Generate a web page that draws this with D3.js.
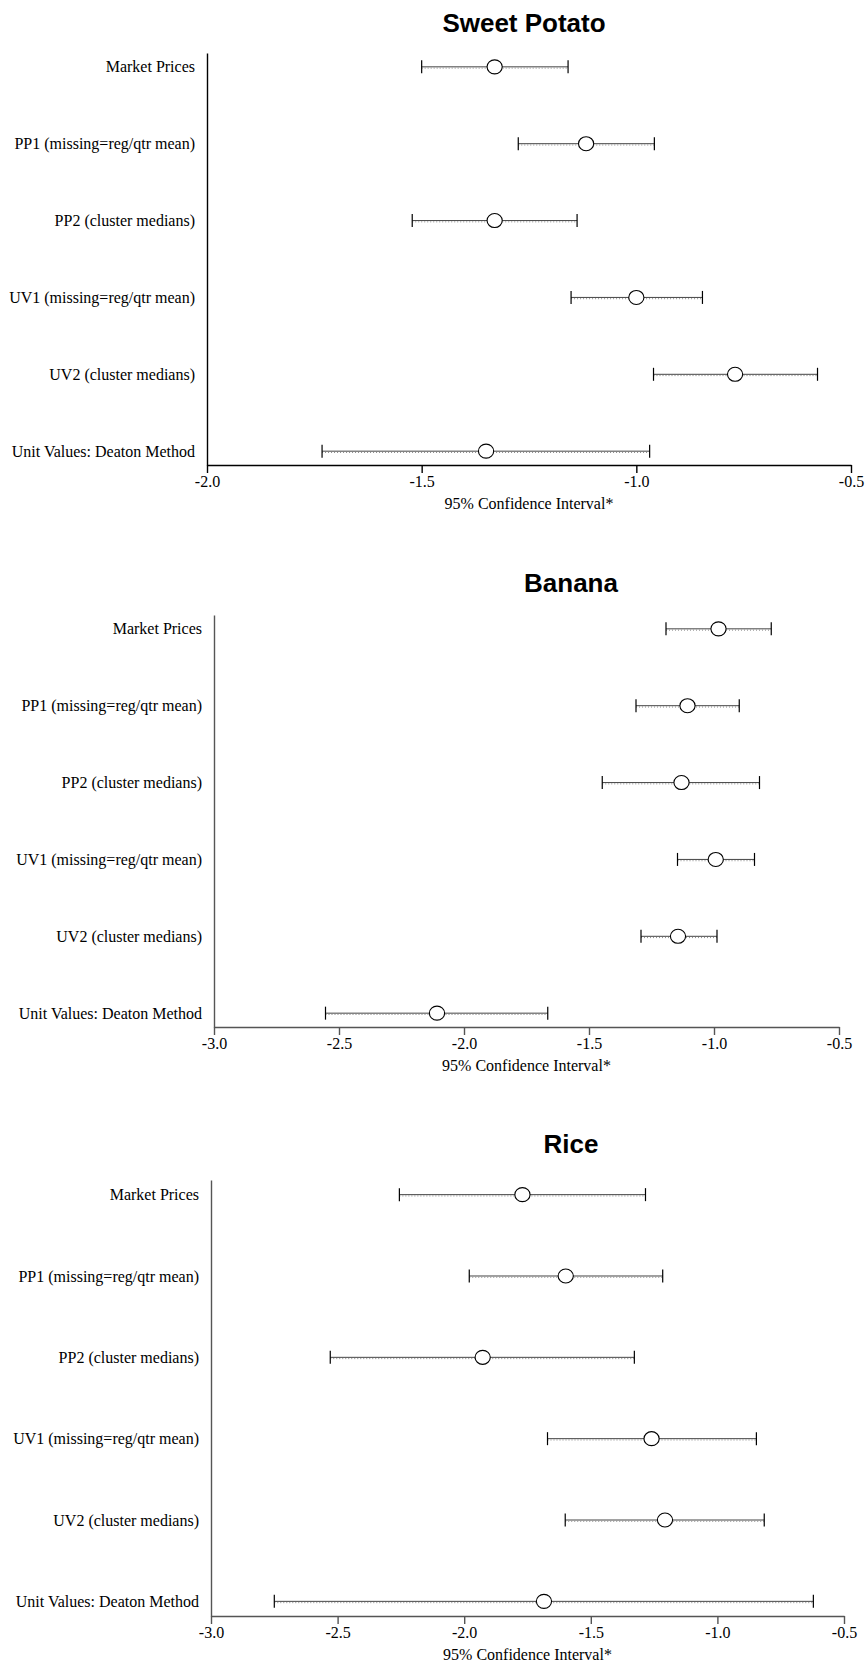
<!DOCTYPE html>
<html>
<head>
<meta charset="utf-8">
<script src="https://cdn.jsdelivr.net/npm/d3@7"></script>
<style>
  html, body { margin: 0; padding: 0; background: #fff; }
  svg { display: block; }
</style>
</head>
<body>
<script>
// Price-elasticity estimates with 95% confidence intervals, one panel per crop.
const categories = [
  "Market Prices",
  "PP1 (missing=reg/qtr mean)",
  "PP2 (cluster medians)",
  "UV1 (missing=reg/qtr mean)",
  "UV2 (cluster medians)",
  "Unit Values: Deaton Method"
];

const sweetPotatoEst = [-1.330, -1.117, -1.330, -1.000, -0.770, -1.350];
const sweetPotatoLo  = [-1.500, -1.275, -1.522, -1.152, -0.960, -1.732];
const sweetPotatoHi  = [-1.159, -0.958, -1.138, -0.846, -0.578, -0.969];
const sweetPotatoTicks = [-2.0, -1.5, -1.0, -0.5];

const bananaEst = [-0.982, -1.106, -1.130, -0.993, -1.144, -2.108];
const bananaLo  = [-1.192, -1.312, -1.447, -1.146, -1.292, -2.554];
const bananaHi  = [-0.771, -0.899, -0.818, -0.838, -0.988, -1.665];
const bananaTicks = [-3.0, -2.5, -2.0, -1.5, -1.0, -0.5];

const riceEst = [-1.770, -1.599, -1.927, -1.260, -1.207, -1.685];
const riceLo  = [-2.256, -1.980, -2.529, -1.671, -1.601, -2.750];
const riceHi  = [-1.284, -1.216, -1.328, -0.846, -0.815, -0.621];
const riceTicks = [-3.0, -2.5, -2.0, -1.5, -1.0, -0.5];

const axisTitle = "95% Confidence Interval*";

// Panel geometry (pixels on the page).
const panels = [
  { title: "Sweet Potato", est: sweetPotatoEst, lo: sweetPotatoLo, hi: sweetPotatoHi,
    ticks: sweetPotatoTicks, left: 207, right: 851, top: 53, bottom: 465,
    titleX: 524, titleY: 32, axisColor: "#000" },
  { title: "Banana", est: bananaEst, lo: bananaLo, hi: bananaHi,
    ticks: bananaTicks, left: 214, right: 839, top: 615, bottom: 1027,
    titleX: 571, titleY: 592, axisColor: "#555" },
  { title: "Rice", est: riceEst, lo: riceLo, hi: riceHi,
    ticks: riceTicks, left: 211, right: 844, top: 1180, bottom: 1616,
    titleX: 571, titleY: 1153, axisColor: "#555" }
];

const W = 865, H = 1670;
const serif = "'Liberation Serif', 'Times New Roman', Times, serif";
const sans = "'Liberation Sans', Arial, Helvetica, sans-serif";

const svg = d3.select("body").append("svg")
  .attr("width", W).attr("height", H)
  .attr("viewBox", `0 0 ${W} ${H}`);

svg.append("rect").attr("width", W).attr("height", H).attr("fill", "#fff");

panels.forEach(p => {
  const g = svg.append("g");

  const x = d3.scaleLinear()
    .domain([p.ticks[0], p.ticks[p.ticks.length - 1]])
    .range([p.left, p.right]);

  const y = d3.scalePoint()
    .domain(categories)
    .range([p.top, p.bottom])
    .padding(0.18);

  // Title
  g.append("text")
    .attr("x", p.titleX).attr("y", p.titleY)
    .attr("text-anchor", "middle")
    .attr("font-family", sans).attr("font-weight", "bold")
    .attr("font-size", 26).attr("fill", "#000")
    .text(p.title);

  // Bottom axis
  const xAxis = g.append("g")
    .attr("transform", `translate(0,${p.bottom})`)
    .attr("font-family", serif)
    .call(d3.axisBottom(x).tickValues(p.ticks).tickSize(8).tickSizeOuter(0)
      .tickPadding(3).tickFormat(d => d.toFixed(1)));
  xAxis.attr("font-family", serif).attr("font-size", 16);
  xAxis.selectAll("path, line").attr("stroke", p.axisColor).attr("stroke-width", 1.4);
  xAxis.selectAll("text").style("font-family", serif).attr("font-size", 16).attr("fill", "#000");

  // Left axis with category labels
  const yAxis = g.append("g")
    .attr("transform", `translate(${p.left},0)`)
    .call(d3.axisLeft(y).tickSize(0).tickSizeOuter(0).tickPadding(12));
  yAxis.attr("font-family", serif).attr("font-size", 16);
  yAxis.selectAll("path").attr("stroke", p.axisColor).attr("stroke-width", 1.4);
  yAxis.selectAll("text").style("font-family", serif).attr("font-size", 16).attr("fill", "#000");

  const rows = categories.map((c, i) => ({ c, est: p.est[i], lo: p.lo[i], hi: p.hi[i] }));
  const cap = 6.5;

  const r = g.selectAll("g.row").data(rows).join("g").attr("class", "row");

  // Interval line with a fine dotted texture beneath it
  r.append("line")
    .attr("x1", d => x(d.lo)).attr("x2", d => x(d.hi))
    .attr("y1", d => y(d.c)).attr("y2", d => y(d.c))
    .attr("stroke", "#444").attr("stroke-width", 1);
  r.append("line")
    .attr("x1", d => x(d.lo)).attr("x2", d => x(d.hi))
    .attr("y1", d => y(d.c) + 1.3).attr("y2", d => y(d.c) + 1.3)
    .attr("stroke", "#888").attr("stroke-width", 1)
    .attr("stroke-dasharray", "1,2");

  // End caps
  r.append("line")
    .attr("x1", d => x(d.lo)).attr("x2", d => x(d.lo))
    .attr("y1", d => y(d.c) - cap).attr("y2", d => y(d.c) + cap)
    .attr("stroke", "#000").attr("stroke-width", 1.2);
  r.append("line")
    .attr("x1", d => x(d.hi)).attr("x2", d => x(d.hi))
    .attr("y1", d => y(d.c) - cap).attr("y2", d => y(d.c) + cap)
    .attr("stroke", "#000").attr("stroke-width", 1.2);

  // Point estimate
  r.append("ellipse")
    .attr("cx", d => x(d.est)).attr("cy", d => y(d.c))
    .attr("rx", 7.6).attr("ry", 7.0)
    .attr("fill", "#fff").attr("stroke", "#000").attr("stroke-width", 1.1);

  // Axis title
  g.append("text")
    .attr("x", (p.left + p.right) / 2).attr("y", p.bottom + 44)
    .attr("text-anchor", "middle")
    .style("font-family", serif).attr("font-size", 16).attr("fill", "#000")
    .text(axisTitle);
});
</script>
</body>
</html>
